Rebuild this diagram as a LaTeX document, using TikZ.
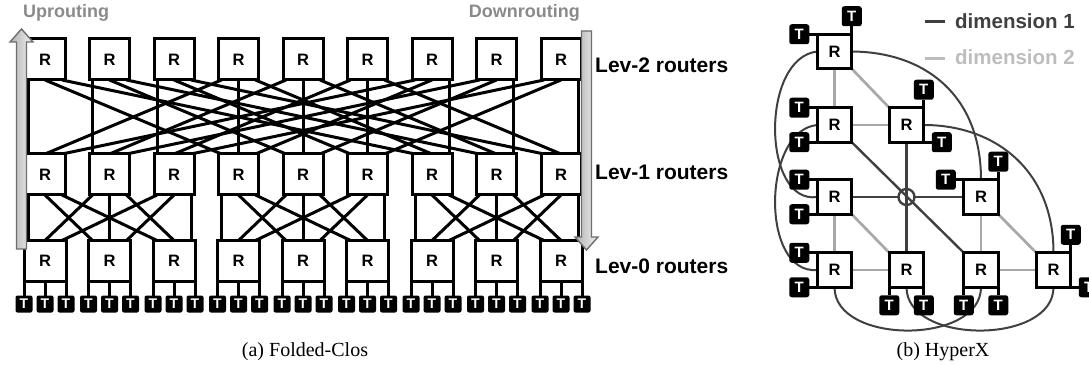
\documentclass[tikz,border=0pt]{standalone}
\usepackage{fontspec}
\setmainfont{Liberation Serif}
\setsansfont{Liberation Sans}
\usetikzlibrary{backgrounds}
\definecolor{dimA}{HTML}{404040}
\definecolor{dimB}{HTML}{A8A8A8}
\definecolor{legB}{HTML}{BDBDBD}
\definecolor{labgray}{HTML}{8A8A8A}
\definecolor{arrline}{HTML}{6E6E6E}
\begin{document}
\begin{tikzpicture}[x=1pt,y=-1pt,
  box/.style={draw=black,fill=white,line width=3pt,inner sep=0pt,outer sep=0pt,
    font=\sffamily\bfseries\fontsize{16.5}{18}\selectfont},
  clos/.style={box,minimum width=40pt,minimum height=41pt},
  leaf/.style={box,minimum width=42pt,minimum height=41pt},
  hxr/.style={box,minimum size=34.5pt},
  term/.style={fill=black,rounded corners=2pt,inner sep=0pt,outer sep=0pt,text=white,
    font=\sffamily\bfseries\fontsize{14}{14}\selectfont,minimum width=17pt,minimum height=17pt},
  hterm/.style={term,minimum width=20pt,minimum height=20pt,rounded corners=2.5pt,
    font=\sffamily\bfseries\fontsize{15}{15}\selectfont},
  wire/.style={line width=3pt,black},
  dimone/.style={line width=2.4pt,dimA},
  dimcurve/.style={line width=2pt,dimA},
  dimtwo/.style={line width=2.7pt,dimB},
  bigarrow/.style={draw=arrline,line width=1.4pt,left color=gray!60,right color=gray!12,line join=miter},
  sidelabel/.style={anchor=base west,inner sep=0pt,font=\sffamily\bfseries\fontsize{21}{21}\selectfont},
  dirlabel/.style={inner sep=0pt,text=labgray,font=\sffamily\bfseries\fontsize{18}{18}\selectfont},
  legtext/.style={anchor=base west,inner sep=0pt,font=\sffamily\bfseries\fontsize{20.5}{20.5}\selectfont},
  caption/.style={anchor=base,inner sep=0pt,font=\fontsize{20}{20}\selectfont}]
\useasboundingbox (0,0) rectangle (1089,366);

% ---------------- Folded-Clos: three levels of nine routers ----------------
\foreach \i in {0,...,8}{
  \pgfmathsetmacro{\cx}{45+64.5*\i}
  \node[clos] (U\i) at (\cx,59.5) {R};
  \node[clos] (M\i) at (\cx,174.5) {R};
  \node[leaf] (B\i) at (\cx,261) {R};
  \foreach \j in {0,1,2}{
    \node[term] (T\i\j) at ({\cx+(\j-1)*21},304) {T};
  }
}

\begin{scope}[on background layer]
  % level 2 -> level 1: router k reaches position (k mod 3) of every pod
  \foreach \k in {0,...,8}{
    \foreach \p in {0,1,2}{
      \pgfmathtruncatemacro{\m}{3*\p+mod(\k,3)}
      \pgfmathtruncatemacro{\q}{div(\k,3)}
      \draw[wire] ([xshift={(\p-1)*17}]U\k.south) -- ([xshift={(\q-1)*17}]M\m.north);
    }
  }
  % level 1 -> level 0: full bipartite links inside each pod
  \foreach \P in {0,1,2}{
    \foreach \i in {0,1,2}{
      \foreach \j in {0,1,2}{
        \pgfmathtruncatemacro{\s}{3*\P+\i}
        \pgfmathtruncatemacro{\t}{3*\P+\j}
        \draw[wire] ([xshift={(\j-1)*17}]M\s.south) -- ([xshift={(\i-1)*17}]B\t.north);
      }
    }
  }
  % level 0 -> terminals
  \foreach \i in {0,...,8}{
    \foreach \j in {0,1,2}{
      \draw[wire] ([xshift={(\j-1)*21}]B\i.south) -- (T\i\j.north);
    }
  }
\end{scope}

% routing direction arrows
\path[bigarrow] (16.5,249) -- (16.5,42) -- (10,42) -- (21.5,29) -- (33,42) -- (26.5,42) -- (26.5,249) -- cycle;
\path[bigarrow] (581.5,31) -- (581.5,237) -- (575,237) -- (586.5,250) -- (598,237) -- (591.5,237) -- (591.5,31) -- cycle;

\node[dirlabel,anchor=base west] (up) at (23,18) {Uprouting};
\node[dirlabel,anchor=base east] (down) at (580,18) {Downrouting};

\node[sidelabel] (lv2) at (595,72.7) {Lev-2 routers};
\node[sidelabel] (lv1) at (595,180) {Lev-1 routers};
\node[sidelabel] (lv0) at (595,273.3) {Lev-0 routers};

\node[caption] (capa) at (305,356) {(a) Folded-Clos};

% ---------------- HyperX: 3 x 3 routers ----------------
\node[hxr] (Ha) at (834.5,51.5) {R};
\node[hxr] (Hb) at (834.5,125) {R};
\node[hxr] (Hc) at (906.5,125) {R};
\node[hxr] (Hd) at (834.5,197) {R};
\node[hxr] (He) at (981,197) {R};
\node[hxr] (Hf) at (834.5,270) {R};
\node[hxr] (Hg) at (906.5,270) {R};
\node[hxr] (Hh) at (981,270) {R};
\node[hxr] (Hi) at (1053.5,270) {R};

% terminals attached at router corners
\node[hterm] (Ta1) at ([xshift=-18pt]Ha.north west) {T};
\node[hterm] (Ta2) at ([yshift=18pt]Ha.north east) {T};
\node[hterm] (Tb1) at ([xshift=-18pt]Hb.north west) {T};
\node[hterm] (Tb2) at ([xshift=-18pt]Hb.south west) {T};
\node[hterm] (Tc1) at ([yshift=18pt]Hc.north east) {T};
\node[hterm] (Tc2) at ([xshift=18pt]Hc.south east) {T};
\node[hterm] (Td1) at ([xshift=-18pt]Hd.north west) {T};
\node[hterm] (Td2) at ([xshift=-18pt]Hd.south west) {T};
\node[hterm] (Te1) at ([xshift=-18pt]He.north west) {T};
\node[hterm] (Te2) at ([yshift=18pt]He.north east) {T};
\node[hterm] (Tf1) at ([xshift=-18pt]Hf.north west) {T};
\node[hterm] (Tf2) at ([xshift=-18pt]Hf.south west) {T};
\node[hterm] (Tg1) at ([yshift=-18pt]Hg.south west) {T};
\node[hterm] (Tg2) at ([yshift=-18pt]Hg.south east) {T};
\node[hterm] (Th1) at ([yshift=-18pt]Hh.south west) {T};
\node[hterm] (Th2) at ([yshift=-18pt]Hh.south east) {T};
\node[hterm] (Ti1) at ([yshift=18pt]Hi.north east) {T};
\node[hterm] (Ti2) at ([xshift=18pt]Hi.south east) {T};

\coordinate (hop) at (906.5,197);

\begin{scope}[on background layer]
  % dimension 2 links
  \draw[dimtwo] (Ha.south) -- (Hb.north);
  \draw[dimtwo] (Ha.south east) -- (Hc.north west);
  \draw[dimtwo] (Hb.east) -- (Hc.west);
  \draw[dimtwo] (Hd.south) -- (Hf.north);
  \draw[dimtwo] (Hd.south east) -- (Hg.north west);
  \draw[dimtwo] (Hf.east) -- (Hg.west);
  \draw[dimtwo] (He.south) -- (Hh.north);
  \draw[dimtwo] (He.south east) -- (Hi.north west);
  \draw[dimtwo] (Hh.east) -- (Hi.west);
  % dimension 1 links
  \draw[dimone] (Hd.east) -- ([xshift=-8pt]hop);
  \draw[dimone] ([xshift=8pt]hop) -- (He.west);
  \draw[dimone] (hop) circle[radius=8pt];
  \draw[dimone] (Hc.south) -- (Hg.north);
  \draw[dimone] (Hb.south east) -- (Hh.north west);
  \draw[dimcurve] (Ha.west) .. controls (760,58) and (762,205) .. (Hd.west);
  \draw[dimcurve] (Hb.west) .. controls (762,130) and (760,275) .. (Hf.west);
  \draw[dimcurve] (Ha.east) .. controls (925,52) and (981,95) .. (He.north);
  \draw[dimcurve] (Hc.east) .. controls (995,125) and (1053.5,170) .. (Hi.north);
  \draw[dimcurve] (Hf.south) .. controls (834.5,345) and (981,345) .. (Hh.south);
  \draw[dimcurve] (Hg.south) .. controls (906.5,345) and (1053.5,345) .. (Hi.south);
  % terminal wires
  \draw[wire] (Ta1.east) -- (Ha.north west);
  \draw[wire] (Ta2.south) -- (Ha.north east);
  \draw[wire] (Tb1.east) -- (Hb.north west);
  \draw[wire] (Tb2.east) -- (Hb.south west);
  \draw[wire] (Tc1.south) -- (Hc.north east);
  \draw[wire] (Tc2.west) -- (Hc.south east);
  \draw[wire] (Td1.east) -- (Hd.north west);
  \draw[wire] (Td2.east) -- (Hd.south west);
  \draw[wire] (Te1.east) -- (He.north west);
  \draw[wire] (Te2.south) -- (He.north east);
  \draw[wire] (Tf1.east) -- (Hf.north west);
  \draw[wire] (Tf2.east) -- (Hf.south west);
  \draw[wire] (Tg1.north) -- (Hg.south west);
  \draw[wire] (Tg2.north) -- (Hg.south east);
  \draw[wire] (Th1.north) -- (Hh.south west);
  \draw[wire] (Th2.north) -- (Hh.south east);
  \draw[wire] (Ti1.south) -- (Hi.north east);
  \draw[wire] (Ti2.west) -- (Hi.south east);
\end{scope}

% legend
\node[legtext,text=dimA] (leg1) at (955,28.3) {dimension 1};
\node[legtext,text=legB] (leg2) at (955,65) {dimension 2};
\draw[line width=2.7pt,dimA] ([xshift=-10pt,yshift=-0.5pt]leg1.west) -- ++(-20,0);
\draw[line width=2.7pt,legB] ([xshift=-10pt,yshift=-0.5pt]leg2.west) -- ++(-20,0);

\node[caption] (capb) at (943,356) {(b) HyperX};
\end{tikzpicture}
\end{document}
